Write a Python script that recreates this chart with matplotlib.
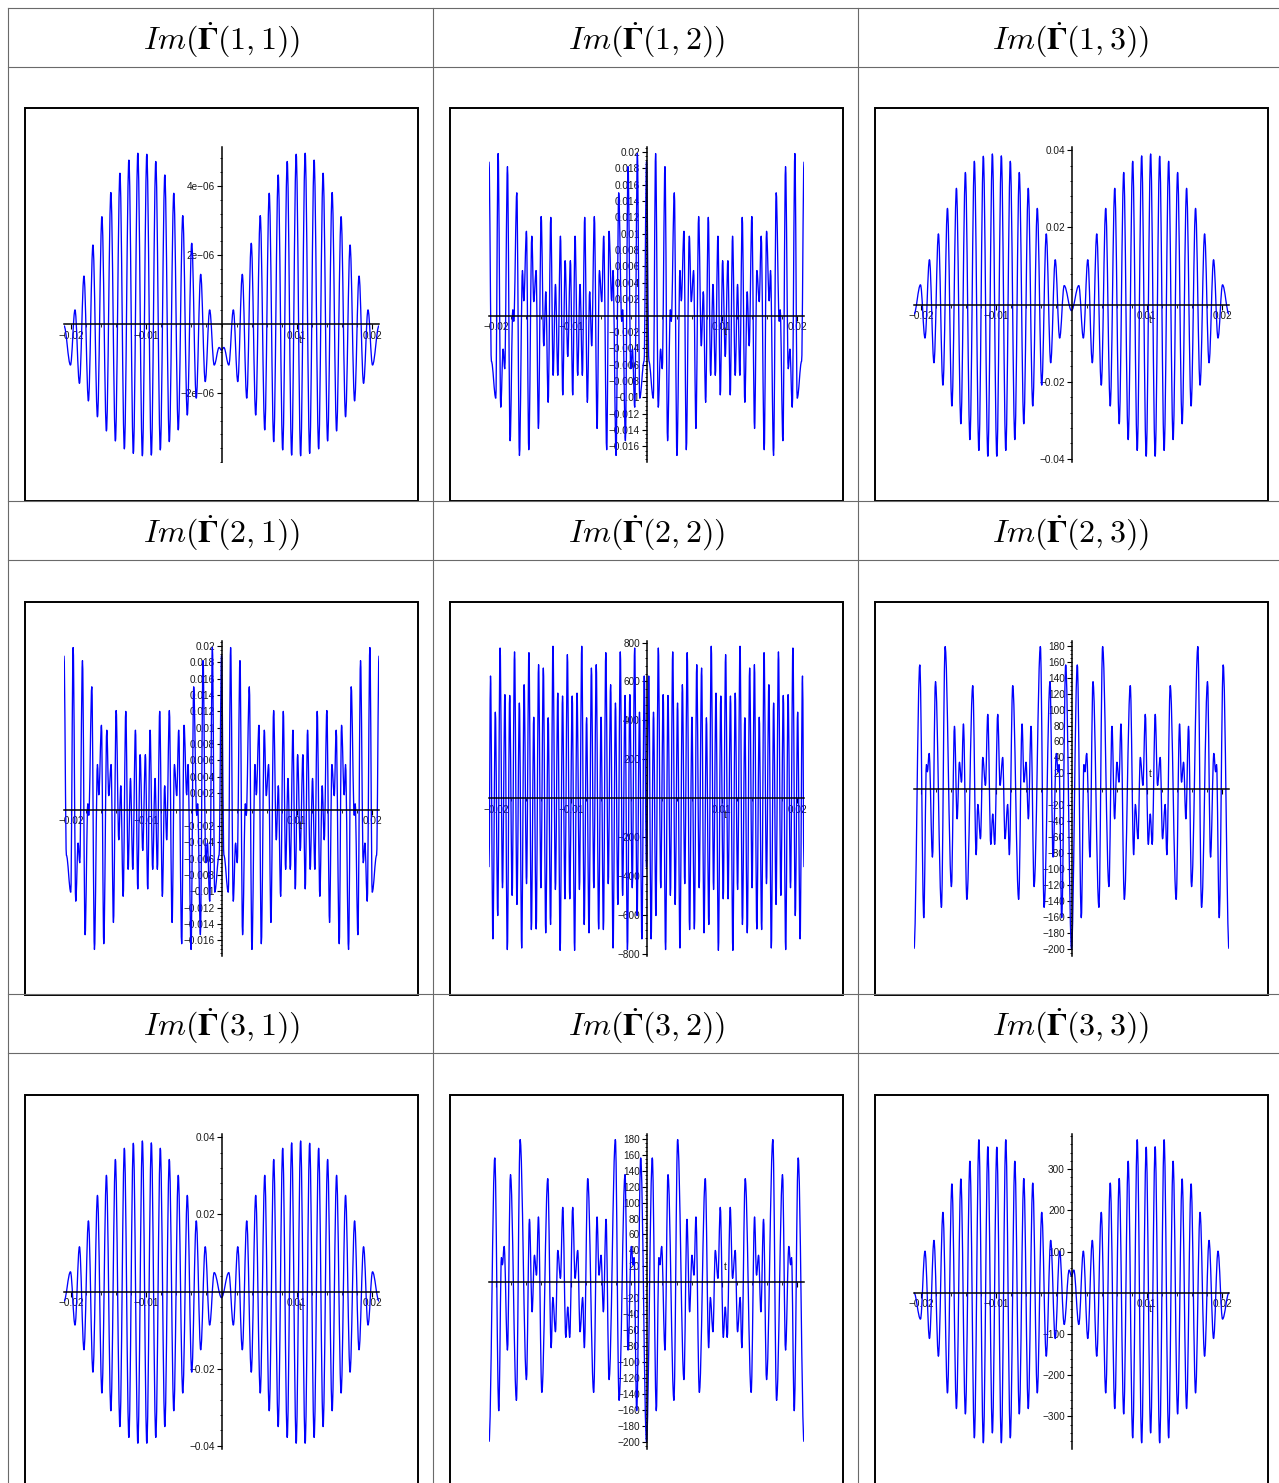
import numpy as np
import matplotlib
matplotlib.use("Agg")
import matplotlib.pyplot as plt
from matplotlib.path import Path
from matplotlib.patches import PathPatch, Rectangle
from matplotlib.lines import Line2D
from matplotlib.ticker import FixedLocator, FixedFormatter, MultipleLocator

plt.rcParams["mathtext.fontset"] = "custom"
plt.rcParams["mathtext.rm"] = "cmr10"
plt.rcParams["mathtext.it"] = "cmmi10"
plt.rcParams["mathtext.bf"] = "STIXGeneral:bold"
plt.rcParams["mathtext.fallback"] = "cm"
plt.rcParams["font.family"] = ["Liberation Sans", "DejaVu Sans"]

# ---------------------------------------------------------------------------
# Extremum samples (t, value) of each curve, left to right
# ---------------------------------------------------------------------------
t_af = [-0.02090, -0.02004, -0.01944, -0.01885, -0.01825, -0.01766, -0.01706, -0.01646,
        -0.01587, -0.01527, -0.01468, -0.01408, -0.01348, -0.01289, -0.01229, -0.01170,
        -0.01110, -0.01050, -0.00991, -0.00931, -0.00872, -0.00812, -0.00752, -0.00693,
        -0.00633, -0.00574, -0.00514, -0.00454, -0.00395, -0.00335, -0.00276, -0.00216,
        -0.00157, -0.00097, -0.00031,
        0.0,
        0.00031, 0.00097, 0.00157, 0.00216, 0.00276, 0.00335, 0.00395, 0.00454,
        0.00514, 0.00574, 0.00633, 0.00693, 0.00752, 0.00812, 0.00872, 0.00931,
        0.00991, 0.01050, 0.01110, 0.01170, 0.01229, 0.01289, 0.01348, 0.01408,
        0.01468, 0.01527, 0.01587, 0.01646, 0.01706, 0.01766, 0.01825, 0.01885,
        0.01944, 0.02004, 0.02090]

im11 = [-0.05, -1.19, 0.41, -1.72, 1.39, -2.23, 2.29, -2.69, 3.11, -3.10, 3.81, -3.39,
        4.37, -3.62, 4.75, -3.75, 4.95, -3.82, 4.92, -3.80, 4.71, -3.65, 4.32, -3.41,
        3.79, -3.07, 3.14, -2.64, 2.34, -2.15, 1.44, -1.67, 0.41, -1.19, -0.68,
        -0.76,
        -0.68, -1.19, 0.41, -1.67, 1.44, -2.15, 2.34, -2.64, 3.14, -3.07, 3.79, -3.41,
        4.32, -3.65, 4.71, -3.80, 4.92, -3.82, 4.95, -3.75, 4.75, -3.62, 4.37, -3.39,
        3.81, -3.10, 3.11, -2.69, 2.29, -2.23, 1.39, -1.72, 0.41, -1.19, -0.05]
im11 = np.array(im11) * 1e-6

im33 = [0, -64, 101, -111, 127, -154, 195, -243, 264, -281, 276, -294, 319, -352, 371,
        -364, 354, -340, 353, -364, 371, -352, 319, -294, 277, -281, 266, -243, 195,
        -154, 127, -111, 101, -77, 55,
        40,
        55, -77, 101, -111, 127, -154, 195, -243, 266, -281, 277, -294, 319, -352, 371,
        -364, 353, -340, 354, -364, 371, -352, 319, -294, 276, -281, 264, -243, 195,
        -154, 127, -111, 101, -64, 0]

t_c = [-0.02090, -0.02004, -0.01944, -0.01885, -0.01825, -0.01766, -0.01706, -0.01646,
       -0.01587, -0.01527, -0.01468, -0.01408, -0.01348, -0.01289, -0.01229, -0.01170,
       -0.01110, -0.01050, -0.00991, -0.00931, -0.00872, -0.00812, -0.00752, -0.00693,
       -0.00633, -0.00574, -0.00514, -0.00454, -0.00395, -0.00335, -0.00276, -0.00216,
       -0.00157, -0.00097,
       0.0,
       0.00097, 0.00157, 0.00216, 0.00276, 0.00335, 0.00395, 0.00454,
       0.00514, 0.00574, 0.00633, 0.00693, 0.00752, 0.00812, 0.00872, 0.00931,
       0.00991, 0.01050, 0.01110, 0.01170, 0.01229, 0.01289, 0.01348, 0.01408,
       0.01468, 0.01527, 0.01587, 0.01646, 0.01706, 0.01766, 0.01825, 0.01885,
       0.01944, 0.02004, 0.02090]

im13 = [-0.0025, 0.0051, -0.0087, 0.0116, -0.0151, 0.0183, -0.0209, 0.0249, -0.0263,
        0.0301, -0.0309, 0.0342, -0.0350, 0.0371, -0.0378, 0.0384, -0.0393, 0.0390,
        -0.0393, 0.0385, -0.0378, 0.0371, -0.0350, 0.0342, -0.0309, 0.0301, -0.0263,
        0.0249, -0.0209, 0.0183, -0.0151, 0.0116, -0.0087, 0.0049,
        -0.0016,
        0.0049, -0.0087, 0.0116, -0.0151, 0.0183, -0.0209, 0.0249, -0.0263, 0.0301,
        -0.0309, 0.0342, -0.0350, 0.0371, -0.0378, 0.0385, -0.0393, 0.0390, -0.0393,
        0.0384, -0.0378, 0.0371, -0.0350, 0.0342, -0.0309, 0.0301, -0.0263, 0.0249,
        -0.0209, 0.0183, -0.0151, 0.0116, -0.0087, 0.0051, -0.0025]

t_b = [-0.02090, -0.02058, -0.02000, -0.01969, -0.01934, -0.01903, -0.01881, -0.01845,
       -0.01810, -0.01774, -0.01761, -0.01721, -0.01686, -0.01646, -0.01628, -0.01593,
       -0.01562, -0.01522, -0.01496, -0.01465, -0.01434, -0.01398, -0.01363, -0.01336,
       -0.01305, -0.01270, -0.01239, -0.01208, -0.01177, -0.01142, -0.01111, -0.01080,
       -0.01045, -0.01010, -0.00979, -0.00948, -0.00913, -0.00882, -0.00851, -0.00820,
       -0.00785, -0.00754, -0.00727, -0.00692, -0.00656, -0.00625, -0.00594, -0.00568,
       -0.00528, -0.00497, -0.00462, -0.00444, -0.00404, -0.00369, -0.00329, -0.00316,
       -0.00280, -0.00245, -0.00209, -0.00187, -0.00156, -0.00121, -0.00090, -0.00032,
       0.0,
       0.00032, 0.00090, 0.00121, 0.00156, 0.00187, 0.00209, 0.00245, 0.00280,
       0.00316, 0.00329, 0.00369, 0.00404, 0.00444, 0.00462, 0.00497, 0.00528,
       0.00568, 0.00594, 0.00625, 0.00656, 0.00692, 0.00727, 0.00754, 0.00785,
       0.00820, 0.00851, 0.00882, 0.00913, 0.00948, 0.00979, 0.01010, 0.01045,
       0.01080, 0.01111, 0.01142, 0.01177, 0.01208, 0.01239, 0.01270, 0.01305,
       0.01336, 0.01363, 0.01398, 0.01434, 0.01465, 0.01496, 0.01522, 0.01562,
       0.01593, 0.01628, 0.01646, 0.01686, 0.01721, 0.01761, 0.01774, 0.01810,
       0.01845, 0.01881, 0.01903, 0.01934, 0.01969, 0.02000, 0.02058, 0.02090]

im12 = [0.0188, -0.0056, -0.0101, 0.0198, -0.0112, -0.0041, -0.0065, 0.0182, -0.0153,
        0.0007, -0.0007, 0.0150, -0.0171, 0.0055, 0.0018, 0.0103, -0.0164, 0.0097,
        0.0017, 0.0055, -0.0138, 0.0121, -0.0037, 0.0029, -0.0106, 0.0120, -0.0073,
        0.0038, -0.0073, 0.0097, -0.0097, 0.0067, -0.0050, 0.0067, -0.0097, 0.0097,
        -0.0073, 0.0038, -0.0073, 0.0120, -0.0106, 0.0029, -0.0037, 0.0121, -0.0138,
        0.0055, 0.0017, 0.0097, -0.0164, 0.0103, 0.0018, 0.0055, -0.0171, 0.0150,
        -0.0007, 0.0007, -0.0153, 0.0182, -0.0065, -0.0041, -0.0112, 0.0198, -0.0101,
        -0.0056,
        0.0188,
        -0.0056, -0.0101, 0.0198, -0.0112, -0.0041, -0.0065, 0.0182, -0.0153, 0.0007,
        -0.0007, 0.0150, -0.0171, 0.0055, 0.0018, 0.0103, -0.0164, 0.0097, 0.0017,
        0.0055, -0.0138, 0.0121, -0.0037, 0.0029, -0.0106, 0.0120, -0.0073, 0.0038,
        -0.0073, 0.0097, -0.0097, 0.0067, -0.0050, 0.0067, -0.0097, 0.0097, -0.0073,
        0.0038, -0.0073, 0.0120, -0.0106, 0.0029, -0.0037, 0.0121, -0.0138, 0.0055,
        0.0017, 0.0097, -0.0164, 0.0103, 0.0018, 0.0055, -0.0171, 0.0150, -0.0007,
        0.0007, -0.0153, 0.0182, -0.0065, -0.0041, -0.0112, 0.0198, -0.0101, -0.0056,
        0.0188]

t_d = [-0.02090, -0.02070, -0.02038, -0.02006, -0.01974, -0.01943, -0.01911, -0.01879,
       -0.01847, -0.01815, -0.01783, -0.01751, -0.01719, -0.01687, -0.01656, -0.01624,
       -0.01592, -0.01560, -0.01528, -0.01496, -0.01464, -0.01432, -0.01401, -0.01369,
       -0.01337, -0.01305, -0.01273, -0.01241, -0.01209, -0.01177, -0.01146, -0.01114,
       -0.01082, -0.01050, -0.01018, -0.00986, -0.00954, -0.00922, -0.00890, -0.00859,
       -0.00827, -0.00795, -0.00763, -0.00731, -0.00699, -0.00667, -0.00635, -0.00603,
       -0.00572, -0.00540, -0.00508, -0.00476, -0.00444, -0.00412, -0.00380, -0.00348,
       -0.00317, -0.00285, -0.00253, -0.00221, -0.00189, -0.00157, -0.00125, -0.00093,
       -0.00061, -0.00030,
       0.0,
       0.00030, 0.00061, 0.00093, 0.00125, 0.00157, 0.00189, 0.00221, 0.00253,
       0.00285, 0.00317, 0.00348, 0.00380, 0.00412, 0.00444, 0.00476, 0.00508,
       0.00540, 0.00572, 0.00603, 0.00635, 0.00667, 0.00699, 0.00731, 0.00763,
       0.00795, 0.00827, 0.00859, 0.00890, 0.00922, 0.00954, 0.00986, 0.01018,
       0.01050, 0.01082, 0.01114, 0.01146, 0.01177, 0.01209, 0.01241, 0.01273,
       0.01305, 0.01337, 0.01369, 0.01401, 0.01432, 0.01464, 0.01496, 0.01528,
       0.01560, 0.01592, 0.01624, 0.01656, 0.01687, 0.01719, 0.01751, 0.01783,
       0.01815, 0.01847, 0.01879, 0.01911, 0.01943, 0.01974, 0.02006, 0.02038,
       0.02070, 0.02090]

im22 = [-355, 628, -724, 442, -604, 772, -461, 532, -779, 528, -500, 752, -547, 489,
        -771, 583, -440, 748, -676, 416, -673, 686, -461, 669, -693, 413, -650, 781,
        -470, 540, -783, 525, -518, 738, -518, 525, -783, 540, -470, 781, -650, 413,
        -693, 669, -461, 686, -673, 416, -676, 748, -440, 583, -771, 489, -547, 752,
        -500, 528, -779, 532, -461, 772, -604, 442, -724, 628,
        -355,
        628, -724, 442, -604, 772, -461, 532, -779, 528, -500, 752, -547, 489, -771,
        583, -440, 748, -676, 416, -673, 686, -461, 669, -693, 413, -650, 781, -470,
        540, -783, 525, -518, 738, -518, 525, -783, 540, -470, 781, -650, 413, -693,
        669, -461, 686, -673, 416, -676, 748, -440, 583, -771, 489, -547, 752, -500,
        528, -779, 532, -461, 772, -604, 442, -724, 628, -355]

t_e = [-0.02090, -0.02013, -0.01960, -0.01925, -0.01912, -0.01889, -0.01845, -0.01805,
       -0.01726, -0.01677, -0.01593, -0.01553, -0.01518, -0.01487, -0.01460, -0.01434,
       -0.01389, -0.01310, -0.01265, -0.01243, -0.01208, -0.01177, -0.01142, -0.01111,
       -0.01071, -0.01045, -0.01019, -0.00979, -0.00948, -0.00913, -0.00882, -0.00847,
       -0.00825, -0.00780, -0.00701, -0.00656, -0.00630, -0.00603, -0.00572, -0.00537,
       -0.00497, -0.00413, -0.00364, -0.00285, -0.00245, -0.00201, -0.00178, -0.00165,
       -0.00130, -0.00077,
       0.0,
       0.00077, 0.00130, 0.00165, 0.00178, 0.00201, 0.00245, 0.00285, 0.00364,
       0.00413, 0.00497, 0.00537, 0.00572, 0.00603, 0.00630, 0.00656, 0.00701,
       0.00780, 0.00825, 0.00847, 0.00882, 0.00913, 0.00948, 0.00979, 0.01019,
       0.01045, 0.01071, 0.01111, 0.01142, 0.01177, 0.01208, 0.01243, 0.01265,
       0.01310, 0.01389, 0.01434, 0.01460, 0.01487, 0.01518, 0.01553, 0.01593,
       0.01677, 0.01726, 0.01805, 0.01845, 0.01889, 0.01912, 0.01925, 0.01960,
       0.02013, 0.02090]

im23 = [-200, 156, -161, 31, 22, 45, -85, 135, -148, 179, -122, 79, -37, 34, 9, 82,
        -138, 130, -82, -19, -62, 40, 5, 94, -69, -31, -69, 94, 5, 40, -62, -19, -82,
        130, -138, 82, 9, 34, -37, 79, -122, 179, -148, 135, -85, 45, 22, 31, -161, 156,
        -200,
        156, -161, 31, 22, 45, -85, 135, -148, 179, -122, 79, -37, 34, 9, 82, -138,
        130, -82, -19, -62, 40, 5, 94, -69, -31, -69, 94, 5, 40, -62, -19, -82, 130,
        -138, 82, 9, 34, -37, 79, -122, 179, -148, 135, -85, 45, 22, 31, -161, 156, -200]

# ---------------------------------------------------------------------------
# Axis settings of each curve
# ---------------------------------------------------------------------------
x_ticks = [-0.02, -0.01, 0.01, 0.02]
x_labels = ["\u22120.02", "\u22120.01", "0.01", "0.02"]

ylim_11 = (-4.0e-6, 5.13e-6)
yticks_11 = [4e-6, 2e-6, -2e-6]
ylabels_11 = ["4e\u221206", "2e\u221206", "\u22122e\u221206"]

ylim_12 = (-0.0179, 0.0206)
yticks_12 = [0.02, 0.018, 0.016, 0.014, 0.012, 0.01, 0.008, 0.006, 0.004, 0.002,
             -0.002, -0.004, -0.006, -0.008, -0.01, -0.012, -0.014, -0.016]
ylabels_12 = ["0.02", "0.018", "0.016", "0.014", "0.012", "0.01", "0.008", "0.006",
              "0.004", "0.002", "\u22120.002", "\u22120.004", "\u22120.006", "\u22120.008",
              "\u22120.01", "\u22120.012", "\u22120.014", "\u22120.016"]

ylim_13 = (-0.0408, 0.0408)
yticks_13 = [0.04, 0.02, -0.02, -0.04]
ylabels_13 = ["0.04", "0.02", "\u22120.02", "\u22120.04"]

ylim_22 = (-812, 808)
yticks_22 = [800, 600, 400, 200, -200, -400, -600, -800]
ylabels_22 = ["800", "600", "400", "200", "\u2212200", "\u2212400", "\u2212600", "\u2212800"]

ylim_23 = (-209, 186)
yticks_23 = [180, 160, 140, 120, 100, 80, 60, 40, 20, -20, -40, -60, -80, -100,
             -120, -140, -160, -180, -200]
ylabels_23 = ["180", "160", "140", "120", "100", "80", "60", "40", "20", "\u221220",
              "\u221240", "\u221260", "\u221280", "\u2212100", "\u2212120", "\u2212140",
              "\u2212160", "\u2212180", "\u2212200"]

ylim_33 = (-379, 385)
yticks_33 = [300, 200, 100, -100, -200, -300]
ylabels_33 = ["300", "200", "100", "\u2212100", "\u2212200", "\u2212300"]

curves = {
    "11": dict(t=t_af, v=im11, ylim=ylim_11, yt=yticks_11, yl=ylabels_11, ym=0.4e-6, xlab=True, tdy=-11.5),
    "12": dict(t=t_b, v=im12, ylim=ylim_12, yt=yticks_12, yl=ylabels_12, ym=0.0005, xlab=True, tdy=-12),
    "13": dict(t=t_c, v=im13, ylim=ylim_13, yt=yticks_13, yl=ylabels_13, ym=0.004, xlab=True, tdy=-11),
    "22": dict(t=t_d, v=im22, ylim=ylim_22, yt=yticks_22, yl=ylabels_22, ym=40, xlab=True, tdy=-12),
    "23": dict(t=t_e, v=im23, ylim=ylim_23, yt=yticks_23, yl=ylabels_23, ym=5, xlab=False, tdy=10.8),
    "33": dict(t=t_af, v=im33, ylim=ylim_33, yt=yticks_33, yl=ylabels_33, ym=20, xlab=True, tdy=-12),
}
layout = [["11", "12", "13"],
          ["12", "22", "23"],
          ["13", "23", "33"]]

titles = [[r"$Im(\dot{\mathbf{\Gamma}}(%d,%d))$" % (r + 1, c + 1) for c in range(3)]
          for r in range(3)]

# ---------------------------------------------------------------------------
W, H, DPI = 1279, 1483, 100
fig = plt.figure(figsize=(W / DPI, H / DPI), dpi=DPI)
fig.patch.set_facecolor("white")


def fig_rect(x0, y0, w, h):
    return [x0 / W, 1 - (y0 + h) / H, w / W, h / H]


def smooth_path(t, v, k=0.36):
    """Chain of cubic segments with flat tangents at every sample."""
    verts = [(t[0], v[0])]
    codes = [Path.MOVETO]
    for i in range(1, len(t)):
        dt = t[i] - t[i - 1]
        verts += [(t[i - 1] + k * dt, v[i - 1]), (t[i] - k * dt, v[i]), (t[i], v[i])]
        codes += [Path.CURVE4] * 3
    return Path(verts, codes)


# table rules
GRID = "#6a6a6a"
for yy in [8, 67, 501, 560, 994, 1053]:
    fig.add_artist(Line2D([8 / W, 1.0], [1 - yy / H] * 2, color=GRID, lw=0.8))
for xx in [8, 433, 858]:
    fig.add_artist(Line2D([xx / W] * 2, [1 - 8 / H, 0.0], color=GRID, lw=0.8))

# header titles
title_cx = [221, 646, 1070]
title_cy = [40, 533, 1026]
for r in range(3):
    for c in range(3):
        fig.text(title_cx[c] / W, 1 - title_cy[r] / H, titles[r][c],
                 ha="center", va="center", fontsize=23)

box_x = [25, 450, 875]
box_y = [108, 602, 1095]
BOX = 393
INSET = 39
TICK_FS = 7.2

for r in range(3):
    for c in range(3):
        spec = curves[layout[r][c]]
        bx, by = box_x[c], box_y[r]
        fig.add_artist(Rectangle((bx / W, 1 - (by + BOX) / H), BOX / W, BOX / H,
                                 transform=fig.transFigure, fill=False,
                                 ec="black", lw=1.4))
        ax = fig.add_axes(fig_rect(bx + INSET, by + INSET, BOX - 2 * INSET, BOX - 2 * INSET))
        ax.patch.set_alpha(0)
        t = np.asarray(spec["t"], float)
        v = np.asarray(spec["v"], float)
        assert len(t) == len(v), (layout[r][c], len(t), len(v))
        ax.set_xlim(-0.0209, 0.0209)
        ax.set_ylim(*spec["ylim"])
        ax.add_patch(PathPatch(smooth_path(t, v), fill=False, ec="#0000ff", lw=0.95,
                               joinstyle="round", zorder=2))

        for s in ("top", "right"):
            ax.spines[s].set_visible(False)
        for s in ("left", "bottom"):
            ax.spines[s].set_position(("data", 0))
            ax.spines[s].set_linewidth(1.1)
            ax.spines[s].set_zorder(3)

        ax.xaxis.set_major_locator(FixedLocator(x_ticks))
        ax.xaxis.set_major_formatter(FixedFormatter(x_labels if spec["xlab"] else [""] * 4))
        ax.xaxis.set_minor_locator(MultipleLocator(0.002))
        ax.yaxis.set_major_locator(FixedLocator(spec["yt"]))
        ax.yaxis.set_major_formatter(FixedFormatter(spec["yl"]))
        ax.yaxis.set_minor_locator(MultipleLocator(spec["ym"]))
        ax.tick_params(which="major", length=3.5, width=0.8, labelsize=TICK_FS,
                       pad=1.2, labelcolor="#1a1a1a")
        ax.tick_params(which="minor", length=1.8, width=0.6)

        ax.annotate("t", xy=(0.0104, 0), xytext=(0, spec["tdy"]),
                    textcoords="offset points", ha="center", va="center",
                    fontsize=TICK_FS, color="#1a1a1a")

fig.savefig("out.png", dpi=DPI, facecolor="white")
